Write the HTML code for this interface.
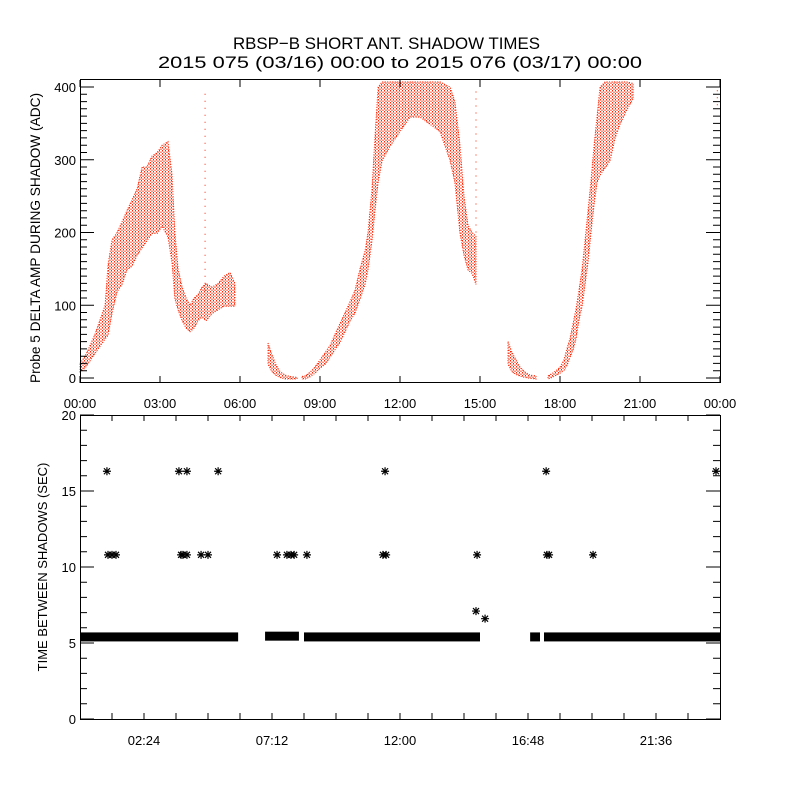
<!DOCTYPE html>
<html><head><meta charset="utf-8"><style>
html,body{margin:0;padding:0;background:#fff;}
svg{display:block;font-family:"Liberation Sans",sans-serif;}
</style></head><body>
<svg id="chart" width="800" height="800" viewBox="0 0 800 800" xmlns="http://www.w3.org/2000/svg">
<defs>
<pattern id="dots" width="3" height="3" patternUnits="userSpaceOnUse">
<rect x="0" y="0" width="1" height="1.5" fill="#ff2200"/><rect x="1.5" y="1.5" width="1" height="1.5" fill="#ff2200"/>
</pattern>
</defs>
<rect width="800" height="800" fill="#fff"/>
<text x="233" y="49" font-size="17" textLength="307" lengthAdjust="spacingAndGlyphs">RBSP−B SHORT ANT. SHADOW TIMES</text>
<text x="158" y="68" font-size="17" textLength="484" lengthAdjust="spacingAndGlyphs">2015 075 (03/16) 00:00 to 2015 076 (03/17) 00:00</text>
<g id="topPanel"></g>
<g id="botPanel"></g>
<text transform="translate(40,238) rotate(-90)" text-anchor="middle" font-size="14" textLength="290" lengthAdjust="spacingAndGlyphs">Probe 5 DELTA AMP DURING SHADOW (ADC)</text>
<text transform="translate(47,567) rotate(-90)" text-anchor="middle" font-size="13">TIME BETWEEN SHADOWS (SEC)</text>
</svg>
<script>
// ---- top panel data (hours, ADC lo/hi envelopes) ----
const seg1Times=[0,0.19,0.38,0.56,0.75,0.94,1.05,1.2,1.39,1.58,1.76,1.95,2.14,2.33,2.51,2.7,2.89,3.08,3.3,3.45,3.56,3.68,3.83,3.98,4.13,4.28,4.43,4.58,4.73,4.95,5.18,5.4,5.63,5.81];
const seg1Lo=[10,15,25,35,45,55,60,90,120,130,150,155,170,180,190,200,200,210,195,160,110,95,80,70,65,70,80,85,80,90,95,100,100,100];
const seg1Hi=[20,30,45,60,80,100,155,190,200,215,230,245,260,290,290,305,310,320,325,280,200,150,125,110,100,110,115,125,130,125,130,140,145,130];
const seg2aTimes=[7.05,7.2,7.35,7.5,7.69,7.88,8.14];
const seg2aLo=[20,10,5,2,0,0,0];
const seg2aHi=[48,32,18,9,4,2,1];
const seg2bTimes=[8.33,8.44,8.63,8.81,9.0,9.19,9.38,9.56,9.75,9.94,10.13,10.31,10.5,10.69,10.8,10.95,11.06,11.18,11.33,11.63,12.0,12.38,12.75,13.13,13.5,13.88,14.06,14.25,14.4,14.55,14.7,14.85];
const seg2bLo=[0,0,3,8,15,20,30,40,50,65,80,90,110,130,150,190,230,270,300,320,340,360,360,350,340,300,270,200,170,150,145,130];
const seg2bHi=[2,3,8,15,25,35,45,60,75,90,105,120,150,175,200,260,330,400,408,408,408,408,408,408,408,400,380,320,250,210,200,195];
const seg3aTimes=[16.05,16.2,16.35,16.5,16.69,16.88,17.1];
const seg3aLo=[20,10,6,4,2,1,0];
const seg3aHi=[50,35,25,15,8,4,3];
const seg3bTimes=[17.55,17.7,17.85,18.0,18.15,18.26,18.38,18.49,18.6,18.71,18.83,18.94,19.05,19.16,19.28,19.39,19.5,19.69,19.88,20.06,20.25,20.51,20.74];
const seg3bLo=[0,2,5,8,12,18,30,40,55,80,100,130,160,200,240,270,280,290,300,330,350,370,385];
const seg3bHi=[3,6,10,15,25,40,55,75,95,120,150,190,230,270,320,360,400,408,408,408,408,408,405];
const spikeTimes=[4.69,14.85,23.9];
const spikeLo=[120,200,375];
const spikeHi=[395,395,400];
const topXLabels=["00:00","03:00","06:00","09:00","12:00","15:00","18:00","21:00","00:00"];
const topYLabels=["0","100","200","300","400"];
// ---- bottom panel data (hours, seconds) ----
const outTimes=[1.01,3.71,4.01,5.18,11.44,17.48,23.85,1.05,1.2,1.35,3.79,3.86,4.01,4.54,4.8,7.39,7.76,7.91,8.03,8.51,11.36,11.48,14.89,17.51,17.59,19.24,14.85,15.19];
const outValues=[16.3,16.3,16.3,16.3,16.3,16.3,16.3,10.8,10.8,10.8,10.8,10.8,10.8,10.8,10.8,10.8,10.8,10.8,10.8,10.8,10.8,10.8,10.8,10.8,10.8,10.8,7.1,6.6];
const bandStart=[0,6.94,8.4,16.88,17.4];
const bandEnd=[5.93,8.21,15.0,17.25,24];
const bandValue=[5.4,5.45,5.4,5.4,5.4];
const botXLabels=["02:24","07:12","12:00","16:48","21:36"];
const botXLabelHours=[2.4,7.2,12,16.8,21.6];
const botYLabels=["0","5","10","15","20"];

const NS="http://www.w3.org/2000/svg";
const L=80,R=720;
const tx=h=>L+(h/24)*(R-L);
const ty=v=>378-v*(291/400);
const by=v=>719-v*15.2;
function mk(tag,attrs,parent){const e=document.createElementNS(NS,tag);for(const k in attrs)e.setAttribute(k,attrs[k]);parent.appendChild(e);return e;}
const topG=document.getElementById('topPanel'),botG=document.getElementById('botPanel');

function area(times,lo,hi,name){
  let d='';
  for(let i=0;i<times.length;i++){d+=(i?'L':'M')+tx(times[i]).toFixed(1)+' '+ty(Math.min(hi[i],407)).toFixed(1);}
  let e='';
  for(let i=times.length-1;i>=0;i--){e+='L'+tx(times[i]).toFixed(1)+' '+(ty(lo[i])+1).toFixed(1);}
  const p=mk('path',{d:d+e+'Z',fill:'url(#dots)',stroke:'#ff2200','stroke-width':1,'stroke-dasharray':'1 1.5'},topG);
  
  
}
area(seg1Times,seg1Lo,seg1Hi,'amp-segment-1');
area(seg2aTimes,seg2aLo,seg2aHi,'amp-segment-2a');
area(seg2bTimes,seg2bLo,seg2bHi,'amp-segment-2b');
area(seg3aTimes,seg3aLo,seg3aHi,'amp-segment-3a');
area(seg3bTimes,seg3bLo,seg3bHi,'amp-segment-3b');
spikeTimes.forEach((h,i)=>{
  const s=mk('line',{x1:tx(h),x2:tx(h),y1:ty(spikeLo[i]),y2:ty(spikeHi[i]),stroke:'#ff2200','stroke-width':1,'stroke-dasharray':'1 6'},topG);
  
  
});
const tf=mk('rect',{x:80.5,y:79.5,width:640,height:303,fill:'none',stroke:'#000','stroke-width':1},topG);


let tk='';
for(let v=0;v<=400;v+=10){const y=ty(v);const len=(v%100===0)?14:7;tk+=`M80 ${y.toFixed(1)}h${len}M720 ${y.toFixed(1)}h-${len}`;}
for(let h=0;h<=24;h+=3){const x=tx(h);tk+=`M${x} 383v-7M${x} 80v7`;}
mk('path',{d:tk,stroke:'#000','stroke-width':1,fill:'none'},topG);
topXLabels.forEach((s,i)=>{const t=mk('text',{x:tx(i*3),y:408,'text-anchor':'middle','font-size':13},topG);t.textContent=s;
  
  });
topYLabels.forEach((s,i)=>{const t=mk('text',{x:76,y:ty(i*100)+5,'text-anchor':'end','font-size':13},topG);t.textContent=s;
  
  });

bandStart.forEach((s,i)=>{
  const r=mk('rect',{x:tx(s),y:by(bandValue[i])-4.5,width:tx(bandEnd[i])-tx(s),height:9,fill:'#000'},botG);
  
  
});
outTimes.forEach((h,i)=>{
  const x=tx(h),y=by(outValues[i]);
  const g=mk('path',{d:`M${x-4} ${y}h8M${x} ${y-4}v8M${x-3} ${y-3}l6 6M${x-3} ${y+3}l6 -6`,stroke:'#000','stroke-width':1.2,fill:'none'},botG);
  
  
});
const bf=mk('rect',{x:80.5,y:415.5,width:640,height:304,fill:'none',stroke:'#000','stroke-width':1},botG);


let bk='';
for(let v=0;v<=20;v+=1){const y=by(v);const len=(v%5===0)?14:7;bk+=`M80 ${y.toFixed(1)}h${len}M720 ${y.toFixed(1)}h-${len}`;}
for(let k=1;k<20;k++){const x=tx(k*1.2).toFixed(1);bk+=`M${x} 719v-6M${x} 415v6`;}
mk('path',{d:bk,stroke:'#000','stroke-width':1,fill:'none'},botG);
botXLabels.forEach((s,i)=>{const t=mk('text',{x:tx(botXLabelHours[i]),y:745,'text-anchor':'middle','font-size':13},botG);t.textContent=s;
  
  });
botYLabels.forEach((s,i)=>{const t=mk('text',{x:76,y:by(i*5)+5,'text-anchor':'end','font-size':13},botG);t.textContent=s;
  
  });
</script>
</body></html>
